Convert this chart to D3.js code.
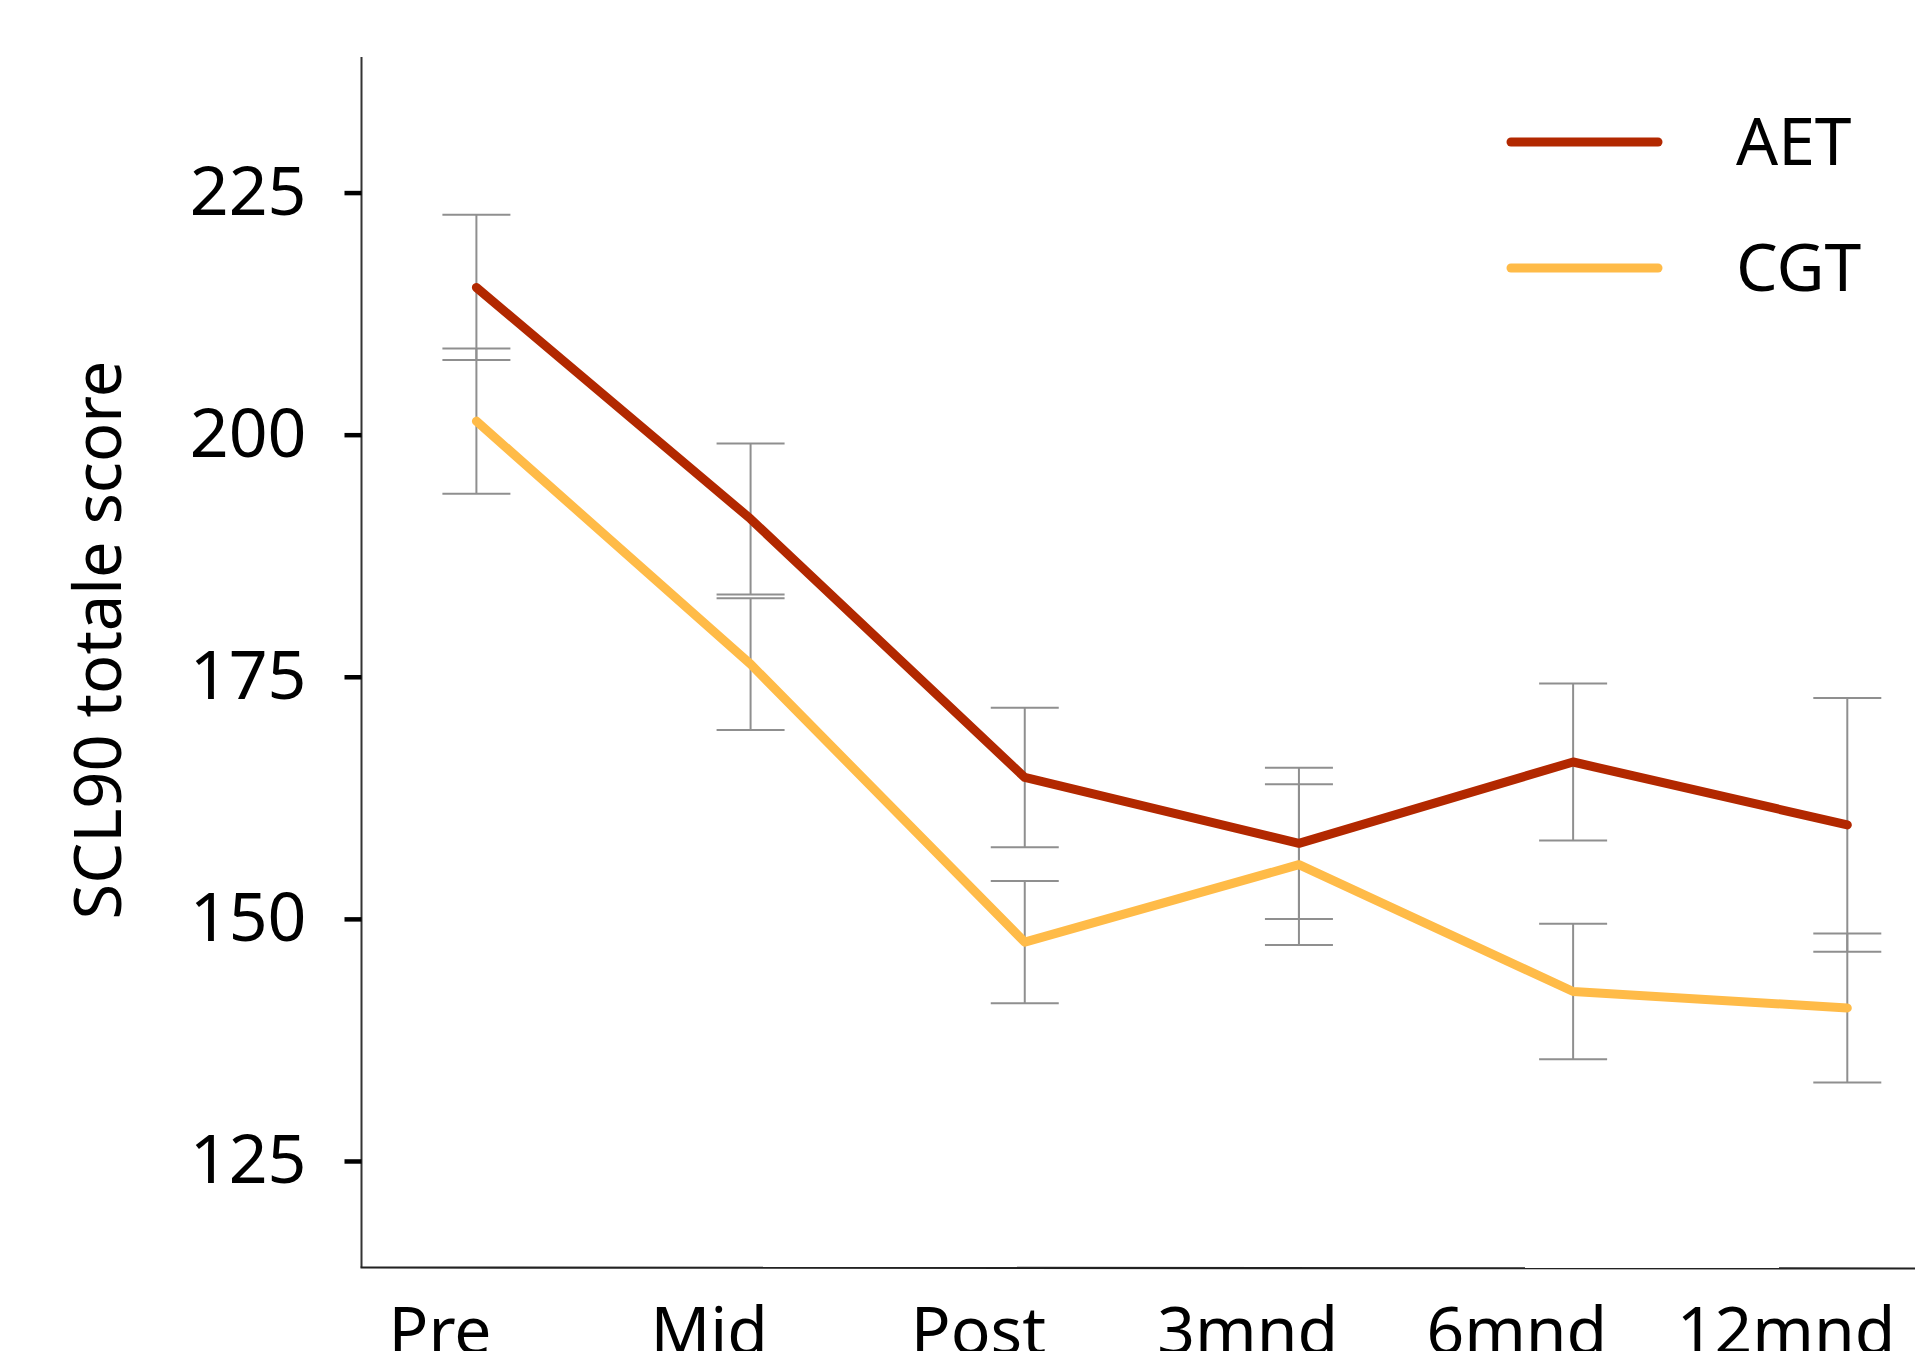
<!DOCTYPE html>
<html>
<head>
<meta charset="utf-8">
<script src="https://cdn.jsdelivr.net/npm/d3@7/dist/d3.min.js"></script>
<style>
  html, body { margin: 0; padding: 0; background: #fff; }
  svg { display: block; }
  text { font-family: "Noto Sans", "Open Sans", sans-serif; fill: #000; }
</style>
</head>
<body>
<svg id="chart" width="1915" height="1351"></svg>
<script>
// ---- data ----
const categories = ["Pre", "Mid", "Post", "3mnd", "6mnd", "12mnd"];
const seriesNames = ["AET", "CGT"];
const aetMean = [215.2, 191.3, 164.6, 157.8, 166.2, 159.7];
const aetErr  = [7.5, 7.8, 7.2, 7.8, 8.1, 13.1];
const cgtMean = [201.4, 176.3, 147.6, 155.6, 142.5, 140.8];
const cgtErr  = [7.5, 6.8, 6.3, 8.3, 7.0, 7.7];
const yTicks = [125, 150, 175, 200, 225];
const yTitle = "SCL90 totale score";
const colors = ["#B22800", "#FFBB48"];

const series = [
  { name: seriesNames[0], mean: aetMean, err: aetErr, color: colors[0] },
  { name: seriesNames[1], mean: cgtMean, err: cgtErr, color: colors[1] }
];

const svg = d3.select("#chart");

const axisLeftX = 361.5, axisTop = 57, axisBottom = 1267.5;

const x = d3.scalePoint().domain(categories).range([476.4, 1847.3]);
const xLabel = d3.scalePoint().domain(categories).range([440, 1786]);
const y = d3.scaleLinear().domain([114, 239]).range([axisBottom, axisTop]);

// y axis line
svg.append("line")
  .attr("x1", axisLeftX).attr("x2", axisLeftX)
  .attr("y1", axisTop).attr("y2", axisBottom)
  .attr("stroke", "#333").attr("stroke-width", 2);

// x axis line
svg.append("line")
  .attr("x1", axisLeftX - 1).attr("x2", 1915)
  .attr("y1", axisBottom).attr("y2", axisBottom + 1)
  .attr("stroke", "#222").attr("stroke-width", 2.2);

// y ticks
const yAxis = d3.axisLeft(y).tickValues(yTicks).tickSize(17).tickPadding(38);
const gy = svg.append("g").attr("transform", `translate(${axisLeftX},0)`).call(yAxis);
gy.select(".domain").remove();
gy.selectAll(".tick line").attr("stroke", "#000").attr("stroke-width", 4.5);
gy.selectAll(".tick text")
  .style("font-family", '"Noto Sans", sans-serif')
  .style("font-size", "68px").attr("fill", "#000");

// y title
svg.append("text")
  .attr("transform", `translate(121,640) rotate(-90)`)
  .attr("text-anchor", "middle")
  .style("font-size", "65px")
  .text(yTitle);

// x labels
svg.append("g").selectAll("text")
  .data(categories).join("text")
  .attr("x", d => xLabel(d))
  .attr("y", 1354)
  .attr("text-anchor", "middle")
  .style("font-size", "66px")
  .text(d => d);

// error bars
const capHalf = 34;
series.forEach(s => {
  const g = svg.append("g").attr("stroke", "#8f8f8f").attr("stroke-width", 2).attr("fill", "none");
  categories.forEach((c, i) => {
    const cx = x(c);
    const top = y(s.mean[i] + s.err[i]);
    const bot = y(s.mean[i] - s.err[i]);
    g.append("line").attr("x1", cx).attr("x2", cx).attr("y1", top).attr("y2", bot);
    g.append("line").attr("x1", cx - capHalf).attr("x2", cx + capHalf).attr("y1", top).attr("y2", top);
    g.append("line").attr("x1", cx - capHalf).attr("x2", cx + capHalf).attr("y1", bot).attr("y2", bot);
  });
});

// lines
const line = d3.line().x((d, i) => x(categories[i])).y(d => y(d));
series.slice().reverse().forEach(s => {
  svg.append("path")
    .attr("d", line(s.mean))
    .attr("fill", "none")
    .attr("stroke", s.color)
    .attr("stroke-width", 9)
    .attr("stroke-linecap", "round")
    .attr("stroke-linejoin", "round");
});

// legend
const legY = d3.scalePoint().domain(seriesNames).range([142, 268]);
const leg = svg.append("g");
series.forEach(s => {
  leg.append("line")
    .attr("x1", 1511).attr("x2", 1658)
    .attr("y1", legY(s.name)).attr("y2", legY(s.name))
    .attr("stroke", s.color).attr("stroke-width", 9)
    .attr("stroke-linecap", "round");
  leg.append("text")
    .attr("x", 1736)
    .attr("y", legY(s.name) + 23)
    .style("font-size", "66px")
    .text(s.name);
});
</script>
</body>
</html>
